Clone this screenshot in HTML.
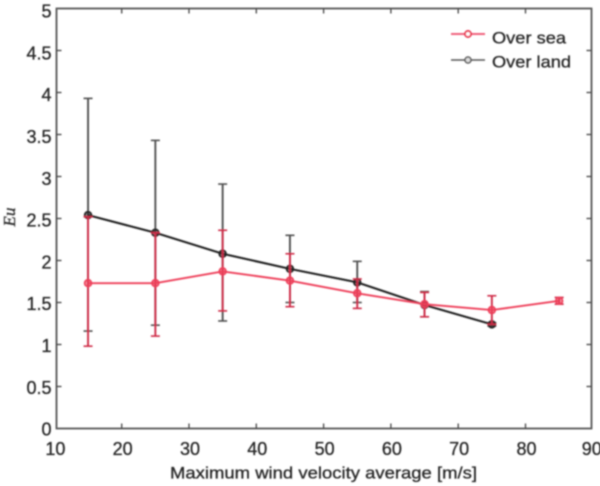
<!DOCTYPE html>
<html lang="en">
<head>
<meta charset="utf-8">
<title>Eu vs maximum wind velocity average</title>
<style>
html,body{margin:0;padding:0;background:#fff;width:600px;height:486px;overflow:hidden}
svg{display:block}
text{font-family:"Liberation Sans",Arial,sans-serif;fill:#262626;stroke:#262626;stroke-width:0.3}
</style>
</head>
<body>
<svg id="chart" width="600" height="486" viewBox="0 0 600 486" xmlns="http://www.w3.org/2000/svg">
<defs><filter id="soft" x="-5%" y="-5%" width="110%" height="110%"><feGaussianBlur stdDeviation="0.7"/></filter></defs>
<rect width="600" height="486" fill="#fff"/>
<g id="root" filter="url(#soft)"></g>
</svg>
<script>
const xTicks = [10, 20, 30, 40, 50, 60, 70, 80, 90];
const yTicks = [0, 0.5, 1, 1.5, 2, 2.5, 3, 3.5, 4, 4.5, 5];
const yTickLabels = ['0', '0.5', '1', '1.5', '2', '2.5', '3', '3.5', '4', '4.5', '5'];

const seaX = [15, 25, 35, 45, 55, 65, 75, 85];
const seaMean = [1.73, 1.73, 1.87, 1.76, 1.61, 1.48, 1.41, 1.52];
const seaUpper = [2.52, 2.33, 2.36, 2.08, 1.78, 1.62, 1.58, 1.56];
const seaLower = [0.98, 1.10, 1.40, 1.45, 1.43, 1.33, 1.24, 1.48];

const landX = [15, 25, 35, 45, 55, 65, 75];
const landMean = [2.54, 2.33, 2.08, 1.90, 1.74, 1.47, 1.24];
const landUpper = [3.93, 3.43, 2.91, 2.30, 1.99, 1.63, 1.26];
const landLower = [1.16, 1.23, 1.28, 1.50, 1.50, 1.33, 1.22];

const NS = 'http://www.w3.org/2000/svg';
const root = document.getElementById('root');
function sx(v) { return 54.4 + (v - 10) * 6.73; }
function sy(v) { return 428.5 - v * 84; }
function labelY(v) { return 429.3 - v * 83.6 + 6.3; }
const axisLeft = 56.5, axisRight = 591.5, axisTop = sy(5), axisBottom = sy(0);

function make(tag, attrs, parent) {
  const el = document.createElementNS(NS, tag);
  for (const k in attrs) el.setAttribute(k, attrs[k]);
  (parent || root).appendChild(el);
  return el;
}

// axes box
const box = make('rect', {x: axisLeft, y: axisTop, width: axisRight - axisLeft, height: axisBottom - axisTop, fill: 'none', stroke: '#555', 'stroke-width': 1.8});



// x ticks
xTicks.forEach(function (t) {
  const x = sx(t);
  if (t !== 10 && t !== 90) {
    const b = make('line', {x1: x, x2: x, y1: axisBottom, y2: axisBottom - 5, stroke: '#444', 'stroke-width': 1.3});
    
    
    const u = make('line', {x1: x, x2: x, y1: axisTop, y2: axisTop + 5, stroke: '#444', 'stroke-width': 1.3});
    
    
  }
  const lab = make('text', {x: t === 10 ? x + 1 : t === 90 ? x - 1 : x + 1, y: 455, 'text-anchor': 'middle', 'font-size': 18});
  lab.textContent = String(t);
  
  
});

// y ticks
yTicks.forEach(function (t, i) {
  const y = sy(t);
  if (t !== 0 && t !== 5) {
    const l = make('line', {x1: axisLeft, x2: axisLeft + 5, y1: y, y2: y, stroke: '#444', 'stroke-width': 1.3});
    
    
    const r = make('line', {x1: axisRight, x2: axisRight - 5, y1: y, y2: y, stroke: '#444', 'stroke-width': 1.3});
    
    
  }
  const lab = make('text', {x: 51.5, y: labelY(t), 'text-anchor': 'end', 'font-size': 18});
  lab.textContent = yTickLabels[i];
  
  
});

function drawErrorBars(xs, upper, lower, color, name) {
  xs.forEach(function (v, i) {
    const x = sx(v);
    const bar = make('line', {x1: x, x2: x, y1: sy(upper[i]), y2: sy(lower[i]), stroke: color, 'stroke-width': 1.9});
    
    
    [upper[i], lower[i]].forEach(function (c) {
      const cap = make('line', {x1: x - 4.5, x2: x + 4.5, y1: sy(c), y2: sy(c), stroke: color, 'stroke-width': 1.6});
      
      
    });
  });
}

function drawLine(xs, vals, color, width, name) {
  const pts = xs.map(function (v, i) { return sx(v) + ',' + sy(vals[i]); }).join(' ');
  const line = make('polyline', {points: pts, fill: 'none', stroke: color, 'stroke-width': width});
  
  
  xs.forEach(function (v, i) {
    const p = make('circle', {cx: sx(v), cy: sy(vals[i]), r: 3.4, fill: color, 'fill-opacity': 0.55, stroke: color, 'stroke-width': 1.7});
    
    
  });
}

drawErrorBars(landX, landUpper, landLower, '#505050', 'over-land');
drawLine(landX, landMean, '#222222', 2.1, 'over-land');
drawErrorBars(seaX, seaUpper, seaLower, '#cf2c46', 'over-sea');
drawLine(seaX, seaMean, '#ee3f5a', 1.9, 'over-sea');

// legend
const seaKey = make('line', {x1: 451, x2: 485, y1: 34, y2: 34, stroke: '#f0607a', 'stroke-width': 2});


const seaDot = make('circle', {cx: 468, cy: 34, r: 3, fill: '#fff', stroke: '#e8304e', 'stroke-width': 1.9});


const seaText = make('text', {x: 492, y: 43.5, 'font-size': 16.5, textLength: 74, lengthAdjust: 'spacingAndGlyphs'});
seaText.textContent = 'Over sea';



const landKey = make('line', {x1: 451, x2: 485, y1: 60, y2: 60, stroke: '#555', 'stroke-width': 1.4});


const landDot = make('circle', {cx: 468, cy: 60, r: 3, fill: '#ddd', stroke: '#555', 'stroke-width': 1.5});


const landText = make('text', {x: 492, y: 67.5, 'font-size': 16.5, textLength: 79, lengthAdjust: 'spacingAndGlyphs'});
landText.textContent = 'Over land';



// axis titles
const xTitle = make('text', {x: 170, y: 478.5, 'font-size': 16.5, textLength: 307, lengthAdjust: 'spacingAndGlyphs'});
xTitle.textContent = 'Maximum wind velocity average [m/s]';


const yTitle = make('text', {x: 0, y: 0, 'font-size': 17, 'font-style': 'italic', 'text-anchor': 'middle', transform: 'translate(15 217) rotate(-90)', style: 'font-family:"Liberation Serif",serif'});
yTitle.textContent = 'Eu';


</script>
</body>
</html>
